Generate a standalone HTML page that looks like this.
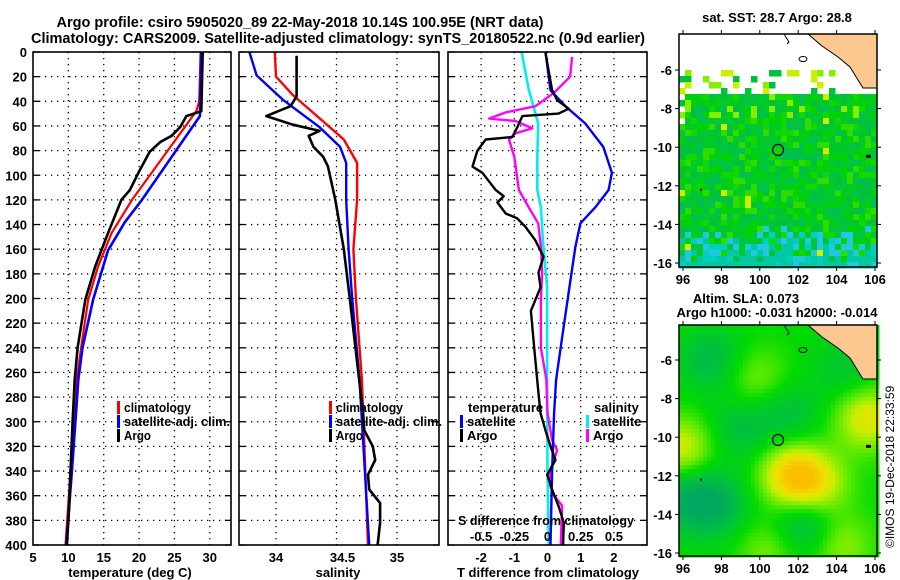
<!DOCTYPE html>
<html><head><meta charset="utf-8">
<style>
html,body{margin:0;padding:0;background:#fff;}
svg{display:block;font-family:"Liberation Sans",sans-serif;font-weight:bold;}
</style></head>
<body>
<svg id="fig" width="900" height="580" viewBox="0 0 900 580" xmlns="http://www.w3.org/2000/svg">
<text x="300" y="27" font-size="14.5" text-anchor="middle" textLength="487" lengthAdjust="spacingAndGlyphs">Argo profile: csiro 5905020_89 22-May-2018 10.14S 100.95E (NRT data)</text>
<text x="338" y="43" font-size="14.5" text-anchor="middle" textLength="614" lengthAdjust="spacingAndGlyphs">Climatology: CARS2009. Satellite-adjusted climatology: synTS_20180522.nc (0.9d earlier)</text>
<g id="layer"></g>
</svg>
<script>
// ---------- data ----------
const depthTicks=[0,20,40,60,80,100,120,140,160,180,200,220,240,260,280,300,320,340,360,380,400];
const tempTicks=[5,10,15,20,25,30];
const salTicks=[34,34.5,35];
const salTickLabels=["34","34.5","35"];
const diffTicks=[-2,-1,0,1,2];
const sdiffTicks=[-0.5,-0.25,0,0.25,0.5];
const sdiffTickLabels=["-0.5","-0.25","0","0.25","0.5"];

const climTDepth=[0,40,48,120,147,174,201,240,266,300,340,400];
const climTVal=[28.7,28.5,28.1,19.0,16.1,14.2,12.8,11.8,11.2,10.8,10.3,9.6];
const satTDepth=[0,52,120,138,161,201,240,266,300,340,400];
const satTVal=[28.8,28.6,20.4,18.0,15.6,13.5,12.0,11.4,11.0,10.5,9.7];
const argoTDepth=[0,48,52,61,68,73,81,98,112,120,147,174,201,240,266,300,340,370,400];
const argoTVal=[29.0,28.8,26.7,25.8,24.6,23.0,21.5,19.9,18.7,17.5,15.6,13.8,12.4,11.3,10.9,10.6,10.3,10.1,9.8];

const climSDepth=[0,20,35,52,71,90,120,160,200,266,400];
const climSVal=[33.99,34.0,34.14,34.34,34.56,34.67,34.67,34.64,34.66,34.71,34.76];
const satSDepth=[0,19,39,61,77,90,120,160,200,266,400];
const satSVal=[33.78,33.84,34.06,34.36,34.53,34.58,34.58,34.6,34.63,34.69,34.77];
const argoSDepth=[3,36,44,52,59,64,68,77,85,93,120,160,200,260,293,307,320,331,343,355,366,382,400];
const argoSVal=[34.17,34.17,34.12,33.92,34.14,34.36,34.27,34.31,34.39,34.43,34.49,34.56,34.61,34.68,34.72,34.73,34.8,34.82,34.76,34.77,34.86,34.86,34.84];

const argoTdDepth=[1,31,39,46,50,52,61,69,71,80,93,98,112,117,122,131,135,142,153,166,179,191,210,240,266,277,293,307,320,331,343,355,369,382,400];
const argoTdVal=[-0.06,0.14,0.29,0.64,0.33,-0.76,-0.91,-1.06,-1.86,-2.11,-2.26,-1.96,-1.56,-1.32,-1.51,-1.26,-0.91,-0.66,-0.36,-0.12,-0.27,-0.21,-0.5,-0.4,-0.31,-0.27,-0.21,-0.06,0.09,0.24,-0.01,0.14,0.34,0.49,0.47];
const satTdDepth=[0,31,44,58,77,98,112,126,139,158,191,230,266,293,340,400];
const satTdVal=[-0.06,0.09,0.54,1.14,1.68,1.94,1.84,1.44,0.99,0.84,0.66,0.45,0.26,0.2,0.14,0.09];
const satSdDepth=[0,31,58,85,112,126,153,191,266,340,400];
const satSdVal=[-0.195,-0.14,-0.07,-0.077,-0.077,-0.05,-0.035,-0.003,-0.003,0,0.01];
const argoSdDepth=[4,20,33,44,49,54,56,62,66,71,85,112,128,139,158,179,200,240,266,293,315,323,334,339,352,360,368,400];
const argoSdVal=[0.185,0.17,0.05,-0.09,-0.315,-0.44,-0.24,-0.115,-0.24,-0.29,-0.25,-0.215,-0.13,-0.07,-0.05,-0.04,-0.05,-0.05,-0.008,0.0,0.035,0.072,0.04,0.02,0.02,0.05,0.11,0.1];

const lonTicks=[96,98,100,102,104,106];
const latTicks=[-6,-8,-10,-12,-14,-16];
const argoLon=100.95, argoLat=-10.14;
// SLA blobs: lon, lat, amplitude
const blobLon=[101.7,105.6,95.9,99.8,104.2,100.5,103.0,97.8,96.2,97.5,102.3,99.0,104.5,101.5];
const blobLat=[-12.0,-9.0,-10.6,-7.0,-15.6,-15.8,-12.5,-13.5,-13.2,-6.0,-14.5,-9.5,-6.5,-8.8];
const blobAmp=[1.3,1.0,0.9,0.5,0.6,0.5,0.8,-0.7,-0.8,-0.6,-0.8,-0.5,-0.4,-0.5];

// ---------- helpers ----------
const NS="http://www.w3.org/2000/svg";
const layer=document.getElementById('layer');
function mk(tag,attrs,parent){const e=document.createElementNS(NS,tag);for(const k in attrs)e.setAttribute(k,attrs[k]);(parent||layer).appendChild(e);return e;}
function txt(x,y,s,size,anchor,parent){const t=mk('text',{x:x,y:y,'font-size':size,'text-anchor':anchor||'start'},parent);t.textContent=s;return t;}

const yTop=52, yBot=545;
const yD=d=>yTop+d*(yBot-yTop)/400;
const P1={l:33,r:231}, P2={l:239,r:439}, P3={l:448,r:647};
const xT=v=>P1.l+(v-5)*(P1.r-P1.l)/28;
const xS=v=>276+(v-34)*121;
const xD=v=>547.5+v*33.2;
const xSD=v=>xD(v*4);

function frame(P,name){
  const g=mk('g',{});
  
  
  return g;
}
function hgrid(P,g){
  depthTicks.forEach(d=>{
    if(d>0&&d<400){const l=mk('line',{x1:P.l,x2:P.r,y1:yD(d),y2:yD(d),stroke:'#000','stroke-width':1.3,'stroke-dasharray':'1.3 4.7'},g);
      }
    mk('line',{x1:P.l,x2:P.l+6,y1:yD(d),y2:yD(d),stroke:'#000','stroke-width':1.3},g);
    mk('line',{x1:P.r-6,x2:P.r,y1:yD(d),y2:yD(d),stroke:'#000','stroke-width':1.3},g);
  });
}
function vgrid(P,xs,g){
  xs.forEach(x=>{const l=mk('line',{x1:x,x2:x,y1:yTop,y2:yBot,stroke:'#000','stroke-width':1.3,'stroke-dasharray':'1.3 4.7'},g);
    });
}
function box(P,g){mk('rect',{x:P.l,y:yTop,width:P.r-P.l,height:yBot-yTop,fill:'none',stroke:'#000','stroke-width':1.6},g);}
function series(xf,ds,vs,color,w,name,g){
  const pts=ds.map((d,i)=>xf(vs[i]).toFixed(1)+','+yD(d).toFixed(1)).join(' ');
  const p=mk('polyline',{points:pts,fill:'none',stroke:color,'stroke-width':w,'stroke-linejoin':'round'},g);
  
  
}
function legendEntry(x,y,color,label,g,name,len){
  const gg=mk('g',{},g);
  
  
  mk('rect',{x:x,y:y-11,width:3,height:13,fill:color},gg);
  const t=txt(x+7,y,label,13,'start',gg);
  if(len){t.setAttribute('textLength',len);t.setAttribute('lengthAdjust','spacingAndGlyphs');}
}

// ---------- panel 1 temperature ----------
const g1=frame(P1,'temperature-panel');
vgrid(P1,tempTicks.filter(v=>v>5).map(xT),g1);
hgrid(P1,g1);
series(xT,climTDepth,climTVal,'#f00',2.2,'temperature-climatology-line',g1);
series(xT,satTDepth,satTVal,'#00f',2.6,'temperature-satellite-line',g1);
series(xT,argoTDepth,argoTVal,'#000',2.6,'temperature-argo-line',g1);
box(P1,g1);
depthTicks.forEach(d=>{const t=txt(27,yD(d)+5,String(d),13,'end');});
tempTicks.forEach(v=>{const t=txt(xT(v),562,String(v),13,'middle');});
const xl1=txt(130,577,'temperature (deg C)',13,'middle');

legendEntry(117,412,'#f00','climatology',g1,'legend-climatology',67);
legendEntry(117,426,'#00f','satellite-adj. clim.',g1,'legend-satellite-adj',106);
legendEntry(117,440,'#000','Argo',g1,'legend-argo',27);

// ---------- panel 2 salinity ----------
const g2=frame(P2,'salinity-panel');
vgrid(P2,salTicks.map(xS),g2);
hgrid(P2,g2);
series(xS,climSDepth,climSVal,'#f00',2.4,'salinity-climatology-line',g2);
series(xS,satSDepth,satSVal,'#00f',2.4,'salinity-satellite-line',g2);
series(xS,argoSDepth,argoSVal,'#000',2.6,'salinity-argo-line',g2);
box(P2,g2);
salTicks.forEach((v,i)=>{const t=txt(xS(v)+(i==1?6:0),562,salTickLabels[i],13,'middle');});
const xl2=txt(338,577,'salinity',13,'middle');

legendEntry(329,412,'#f00','climatology',g2,'legend-climatology-2',67);
legendEntry(329,426,'#00f','satellite-adj. clim.',g2,'legend-satellite-adj-2',106);
legendEntry(329,440,'#000','Argo',g2,'legend-argo-2',27);

// ---------- panel 3 differences ----------
const g3=frame(P3,'difference-panel');
vgrid(P3,diffTicks.map(xD),g3);
hgrid(P3,g3);
series(xSD,satSdDepth,satSdVal,'#0ee',2.6,'salinity-diff-satellite-line',g3);
series(xSD,argoSdDepth,argoSdVal,'#f0f',2.4,'salinity-diff-argo-line',g3);
series(xD,satTdDepth,satTdVal,'#00f',2.4,'temperature-diff-satellite-line',g3);
series(xD,argoTdDepth,argoTdVal,'#000',2.4,'temperature-diff-argo-line',g3);
box(P3,g3);
diffTicks.forEach(v=>{const t=txt(xD(v),562,String(v),13,'middle');});
sdiffTicks.forEach((v,i)=>{const t=txt(xSD(v),541,sdiffTickLabels[i],13,'middle');});
const st=txt(458,525,'S difference from climatology',13,'start');
st.setAttribute('textLength','176');st.setAttribute('lengthAdjust','spacingAndGlyphs');

const xl3=txt(548,577,'T difference from climatology',13,'middle');

const lt=txt(468,412,'temperature',13,'start');
const ls=txt(594,412,'salinity',13,'start');
legendEntry(460,426,'#00f','satellite',g3,'legend-t-satellite');
legendEntry(460,440,'#000','Argo',g3,'legend-t-argo');
legendEntry(586,426,'#0ee','satellite',g3,'legend-s-satellite');
legendEntry(586,440,'#f0f','Argo',g3,'legend-s-argo');

// ---------- maps ----------
const ML=679, MR=877;
const lonX=l=>683+(l-96)*19.2;
function latY(l,off){return off+(-6-l)*19.3;}
function hash(i,j){let h=(i*374761393+j*668265263)^0x5bd1e995;h=(h^(h>>>13))*1274126177;h=h^(h>>>16);return ((h>>>0)%1000)/1000;}

function mapFrame(top,off,name){
  const g=mk('g',{});
  
  
  return g;
}
function mapDecor(g,top,bot,off){
  const land=mk('polygon',{points:[[808,top],[MR,top],[MR,top+54],[863,top+54],[858,top+46],[850,top+33],[838,top+23],[822,top+12]].map(p=>p.join(',')).join(' '),fill:'#fcc890',stroke:'#000','stroke-width':1},g);
  
  mk('ellipse',{cx:803,cy:top+25,rx:4,ry:2.5,fill:'none',stroke:'#000','stroke-width':1},g);
  mk('polyline',{points:`${784},${top} ${789},${top+8} ${787},${top+10}`,fill:'none',stroke:'#000','stroke-width':1},g);
  mk('rect',{x:866,y:latY(-10.5,off)-2,width:5,height:3,fill:'#000'},g);
  mk('rect',{x:700,y:latY(-12.2,off)-1,width:2,height:2,fill:'#000'},g);
  const c=mk('circle',{cx:lonX(argoLon),cy:latY(argoLat,off),r:5.5,fill:'none',stroke:'#000','stroke-width':1.2},g);
  
  mk('rect',{x:ML,y:top,width:MR-ML,height:bot-top,fill:'none',stroke:'#000','stroke-width':1.5},g);
  lonTicks.forEach(l=>{
    mk('line',{x1:lonX(l),x2:lonX(l),y1:top-4,y2:top,stroke:'#000','stroke-width':1},g);
    mk('line',{x1:lonX(l),x2:lonX(l),y1:bot,y2:bot+4,stroke:'#000','stroke-width':1},g);
    const t=txt(lonX(l),bot+17,String(l),13,'middle',g);
  });
  latTicks.forEach(l=>{
    const y=latY(l,off);
    mk('line',{x1:ML-4,x2:ML,y1:y,y2:y,stroke:'#000','stroke-width':1},g);
    mk('line',{x1:MR,x2:MR+4,y1:y,y2:y,stroke:'#000','stroke-width':1},g);
    const t=txt(672,y+5,String(l),13,'end',g);
  });
}

// map 1 : SST
const m1=mapFrame(34,70,'sst-map');
const top1=34, bot1=267;
const sstPal=['#00c040','#00cc20','#00d400','#00c050','#10d800','#00c830','#00c828','#30dc00'];
for(let j=0;j*6+top1<bot1;j++){
  for(let i=0;i*6+ML<MR;i++){
    const x=ML+i*6, y=top1+j*6;
    const lat=-6-(y+3-70)/19.3;
    const h=hash(i,j);
    let col=null;
    const lim = (x<683)? -8.8 : -7.2;
    if(lat<lim) col=sstPal[Math.floor(h*sstPal.length)];
    else if(lat<-6.0 && h>0.7 && x<840) col=(h>0.9)?'#ccf000':(h>0.8?'#88ee00':'#00c040');
    if(!col) continue;
    if(lat<-14){const h2=hash(j,i);if(h2<(-14-lat)*0.45)col=(h2<0.15?'#20c8e0':(h2<0.3?'#00d0c0':'#00c8a0'));}
    if(lat<-7.2&&lat>-8.6&&h>0.85)col='#88ee00';
    if(h>0.985)col='#ccee00';
    mk('rect',{x:x,y:y,width:6.5,height:6.5,fill:col},m1);
  }
}
mapDecor(m1,top1,bot1,70);
const mt1=txt(777,22,'sat. SST: 28.7 Argo: 28.8',13,'middle');


// map 2 : SLA
const m2=mapFrame(325,360,'sla-map');
const top2=325, bot2=556;
const cStops=[[-1.0,[0,168,96]],[-0.5,[0,192,64]],[0,[0,218,0]],[0.4,[100,236,0]],[0.8,[200,238,0]],[1.1,[240,224,0]],[1.5,[248,192,0]]];
function cmap(v){
  if(v<=cStops[0][0])return cStops[0][1];
  for(let k=1;k<cStops.length;k++){if(v<=cStops[k][0]){const a=cStops[k-1],b=cStops[k];const t=(v-a[0])/(b[0]-a[0]);return a[1].map((c,q)=>Math.round(c+(b[1][q]-c)*t));}}
  return cStops[cStops.length-1][1];
}
for(let y=top2;y<bot2;y+=4){
  for(let x=ML;x<MR;x+=4){
    const lon=96+(x+2-683)/19.2, lat=-6-(y+2-360)/19.3;
    let v=0;
    for(let k=0;k<blobLon.length;k++){const dx=lon-blobLon[k],dy=lat-blobLat[k];v+=blobAmp[k]*Math.exp(-(dx*dx+dy*dy)/2.8);}
    const c=cmap(v);
    mk('rect',{x:x,y:y,width:4.5,height:4.5,fill:`rgb(${c[0]},${c[1]},${c[2]})`},m2);
  }
}
mapDecor(m2,top2,bot2,360);
const mt2=txt(746,303,'Altim. SLA: 0.073',13,'middle');

const mt3=txt(777,317,'Argo h1000: -0.031 h2000: -0.014',13,'middle');


const cr=mk('text',{x:0,y:0,'font-size':12,'font-weight':'normal',transform:'translate(894,548) rotate(-90)'});
cr.textContent='©IMOS 19-Dec-2018 22:33:59';


</script>
</body></html>
